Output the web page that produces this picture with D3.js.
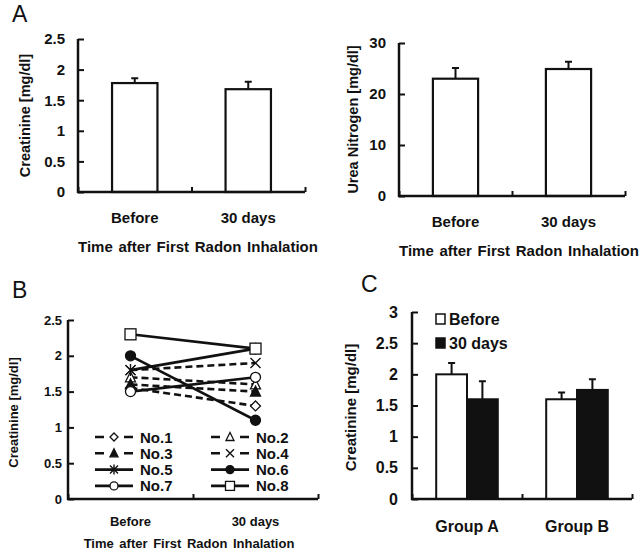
<!DOCTYPE html>
<html>
<head>
<meta charset="utf-8">
<script src="https://cdn.jsdelivr.net/npm/d3@7"></script>
<style>
	body { margin: 0; background: #fff; }
	svg { display: block; }
	text { font-family: "Liberation Sans", Arial, sans-serif; fill: #111; }
</style>
</head>
<body>
<script>
	// ---- data ----
	var timeCats = ['Before', '30 days'],
		creatMean = [1.78, 1.68],
		creatErr = [0.08, 0.12],
		ureaMean = [23.0, 24.9],
		ureaErr = [2.1, 1.4],
		creatTicks = [0, 0.5, 1, 1.5, 2, 2.5],
		ureaTicks = [0, 10, 20, 30];

	var subjects = ['No.1', 'No.2', 'No.3', 'No.4', 'No.5', 'No.6', 'No.7', 'No.8'],
		subjBefore = [1.55, 1.7, 1.6, 1.8, 1.8, 2.0, 1.5, 2.3],
		subjAfter = [1.3, 1.6, 1.5, 1.9, 2.1, 1.1, 1.7, 2.1],
		subjMarker = ['diamond', 'triangle', 'triangleFill', 'cross', 'star', 'circleFill', 'circle', 'square'],
		subjDashed = [true, true, true, true, false, false, false, false];

	var groups = ['Group A', 'Group B'],
		groupBefore = [2.0, 1.6],
		groupAfter = [1.6, 1.75],
		groupBeforeErr = [0.18, 0.11],
		groupAfterErr = [0.29, 0.17],
		groupTicks = [0, 0.5, 1, 1.5, 2, 2.5, 3];

	var width = 640,
		height = 553,
		ink = '#111';

	var svg = d3.select('body').append('svg')
		.attr('width', width)
		.attr('height', height);

	function fmt(d) { return String(d); }

	function panelLetter(txt, x, y) {
		svg.append('text')
			.attr('x', x).attr('y', y)
			.style('font-size', '23px')
			.text(txt);
	}

	// y axis with inward ticks + x axis with 3 small inward ticks
	function drawAxes(g, y, ticks, x0, x1, fontSize, pad) {
		var yAxis = d3.axisLeft(y)
			.tickValues(ticks)
			.tickFormat(fmt)
			.tickSizeInner(-6)
			.tickSizeOuter(0)
			.tickPadding(pad);
		var ya = g.append('g')
			.attr('transform', 'translate(' + x0 + ',0)')
			.call(yAxis);
		var slot = d3.scaleLinear().domain([0, 2]).range([x0, x1]);
		var xa = g.append('g')
			.attr('transform', 'translate(0,' + y(0) + ')')
			.call(d3.axisBottom(slot).tickValues([0, 1, 2]).tickFormat('')
				.tickSizeInner(-5).tickSizeOuter(0));
		[ya, xa].forEach(function(a) {
			a.select('.domain').attr('stroke', ink).attr('stroke-width', 2.5);
			a.selectAll('.tick line').attr('stroke', ink).attr('stroke-width', 2);
			a.selectAll('text')
				.style('font-size', fontSize + 'px')
				.style('font-weight', 'bold')
				.attr('fill', ink);
		});
		ya.select('.domain').attr('d', 'M0,' + (y(ticks[ticks.length - 1])) + 'V' + (y(0) + 1));
		xa.select('.domain').attr('d', 'M' + (x0 - 1) + ',0H' + x1);
	}

	function yTitle(g, txt, x, yc, fontSize) {
		g.append('text')
			.attr('transform', 'translate(' + x + ',' + yc + ') rotate(-90)')
			.attr('text-anchor', 'middle')
			.style('font-size', fontSize + 'px')
			.style('font-weight', 'bold')
			.text(txt);
	}

	function catLabels(g, cats, y, fontSize, center) {
		g.selectAll(null).data(cats).enter().append('text')
			.attr('x', function(d) { return center(d); })
			.attr('y', y)
			.attr('text-anchor', 'middle')
			.style('font-size', fontSize + 'px')
			.style('font-weight', 'bold')
			.text(function(d) { return d; });
	}

	function xTitle(g, x, y, fontSize, anchor, ws) {
		g.append('text')
			.attr('x', x).attr('y', y)
			.attr('text-anchor', anchor)
			.style('font-size', fontSize + 'px')
			.style('font-weight', 'bold')
			.style('word-spacing', ws + 'px')
			.text('Time after First Radon Inhalation');
	}

	function errBars(g, xs, tops, errs, y, cap) {
		g.selectAll(null).data(xs).enter().append('path')
			.attr('d', function(d, i) {
				var yt = y(tops[i] + errs[i]);
				return 'M' + d + ',' + y(tops[i]) + 'V' + yt +
					'M' + (d - cap) + ',' + yt + 'H' + (d + cap);
			})
			.attr('fill', 'none')
			.attr('stroke', ink)
			.attr('stroke-width', 2);
	}

	// ---- panel A, simple bar charts ----
	function barPanel(x0, x1, yTop, y0, maxVal, ticks, means, errs, label, labelX) {
		var g = svg.append('g');
		var y = d3.scaleLinear().domain([0, maxVal]).range([y0, yTop]);
		var x = d3.scaleBand().domain(timeCats).range([x0, x1])
			.paddingInner(0.6).paddingOuter(0.3);
		g.selectAll('rect').data(timeCats).enter().append('rect')
			.attr('x', function(d) { return x(d); })
			.attr('y', function(d, i) { return y(means[i]); })
			.attr('width', x.bandwidth())
			.attr('height', function(d, i) { return y0 - y(means[i]); })
			.attr('fill', '#fff')
			.attr('stroke', ink)
			.attr('stroke-width', 2.2);
		errBars(g, timeCats.map(function(d) { return x(d) + x.bandwidth() / 2; }),
			means, errs, y, 3.5);
		drawAxes(g, y, ticks, x0, x1, 15, 13);
		yTitle(g, label, labelX, (yTop + y0) / 2, 14.5);
		catLabels(g, timeCats, y0 + 31, 15, function(d) { return x(d) + x.bandwidth() / 2; });
		xTitle(g, x0, y0 + 60, 15, 'start', 1.5);
	}

	panelLetter('A', 12, 22);
	barPanel(78, 305, 39, 192, 2.5, creatTicks, creatMean, creatErr, 'Creatinine [mg/dl]', 30);
	barPanel(399, 625, 43, 196, 30, ureaTicks, ureaMean, ureaErr, 'Urea Nitrogen [mg/dl]', 358);

	// ---- panel B, individual lines ----
	function marker(sel, kind, cx, cy, r) {
		var open = '#fff';
		if (kind === 'diamond') {
			sel.append('path').attr('d', 'M' + cx + ',' + (cy - r) + 'L' + (cx + r) + ',' + cy +
				'L' + cx + ',' + (cy + r) + 'L' + (cx - r) + ',' + cy + 'Z')
				.attr('fill', open).attr('stroke', ink).attr('stroke-width', 1.3);
		} else if (kind === 'triangle' || kind === 'triangleFill') {
			sel.append('path').attr('d', 'M' + cx + ',' + (cy - r - 0.5) + 'L' + (cx + r) + ',' + (cy + r - 0.5) +
				'L' + (cx - r) + ',' + (cy + r - 0.5) + 'Z')
				.attr('fill', kind === 'triangle' ? open : ink).attr('stroke', ink).attr('stroke-width', 1.3);
		} else if (kind === 'cross' || kind === 'star') {
			var d = 'M' + (cx - r) + ',' + (cy - r) + 'L' + (cx + r) + ',' + (cy + r) +
				'M' + (cx + r) + ',' + (cy - r) + 'L' + (cx - r) + ',' + (cy + r);
			if (kind === 'star') d += 'M' + cx + ',' + (cy - r - 1) + 'V' + (cy + r + 1);
			sel.append('path').attr('d', d).attr('fill', 'none')
				.attr('stroke', ink).attr('stroke-width', 1.4);
		} else if (kind === 'circle' || kind === 'circleFill') {
			sel.append('circle').attr('cx', cx).attr('cy', cy).attr('r', r)
				.attr('fill', kind === 'circle' ? open : ink).attr('stroke', ink).attr('stroke-width', 1.3);
		} else if (kind === 'square') {
			sel.append('rect').attr('x', cx - r - 0.5).attr('y', cy - r - 0.5)
				.attr('width', 2 * r + 1).attr('height', 2 * r + 1)
				.attr('fill', open).attr('stroke', ink).attr('stroke-width', 1.3);
		}
	}

	(function() {
		var x0 = 68, x1 = 318, yTop = 320, y0 = 499;
		var g = svg.append('g');
		var y = d3.scaleLinear().domain([0, 2.5]).range([y0, yTop]);
		var x = d3.scalePoint().domain(timeCats).range([x0, x1]).padding(0.5);
		var line = d3.line()
			.x(function(d) { return x(d.t); })
			.y(function(d) { return y(d.v); });

		subjects.forEach(function(s, i) {
			var pts = [{t: timeCats[0], v: subjBefore[i]}, {t: timeCats[1], v: subjAfter[i]}];
			g.append('path')
				.datum(pts)
				.attr('d', line)
				.attr('fill', 'none')
				.attr('stroke', ink)
				.attr('stroke-width', 2.6)
				.attr('stroke-dasharray', subjDashed[i] ? '7,4' : null);
		});
		subjects.forEach(function(s, i) {
			marker(g, subjMarker[i], x(timeCats[0]), y(subjBefore[i]), 5);
			marker(g, subjMarker[i], x(timeCats[1]), y(subjAfter[i]), 5);
		});

		// legend: 4 rows x 2 columns
		var leg = g.append('g');
		subjects.forEach(function(s, i) {
			var col = i % 2, row = Math.floor(i / 2);
			var lx = col ? 211 : 95, ly = 437 + row * 16.3;
			leg.append('path')
				.attr('d', 'M' + lx + ',' + ly + 'H' + (lx + 38))
				.attr('stroke', ink).attr('stroke-width', 2.6)
				.attr('stroke-dasharray', subjDashed[i] ? '9,20,9' : null);
			marker(leg, subjMarker[i], lx + 19, ly, 4);
			leg.append('text')
				.attr('x', lx + 45).attr('y', ly + 5.5)
				.style('font-size', '15px')
				.style('font-weight', 'bold')
				.text(s);
		});

		drawAxes(g, y, creatTicks, x0, x1, 13, 6);
		yTitle(g, 'Creatinine [mg/dl]', 18, (yTop + y0) / 2 + 3, 13);
		catLabels(g, timeCats, y0 + 27, 13, function(d) { return x(d); });
		xTitle(g, 189, y0 + 49, 13, 'middle', 2);
	})();
	panelLetter('B', 12, 298);

	// ---- panel C, grouped bars ----
	(function() {
		var x0 = 412, x1 = 632, yTop = 312, y0 = 499;
		var g = svg.append('g');
		var y = d3.scaleLinear().domain([0, 3]).range([y0, yTop]);
		var x = d3.scaleBand().domain(groups).range([x0, x1])
			.paddingInner(0.44).paddingOuter(0.22);
		var sub = d3.scaleBand().domain(['b', 'a']).range([0, x.bandwidth()]);
		var series = [
			{key: 'b', name: 'Before', vals: groupBefore, errs: groupBeforeErr, fill: '#fff'},
			{key: 'a', name: '30 days', vals: groupAfter, errs: groupAfterErr, fill: ink}
		];
		series.forEach(function(s) {
			g.selectAll(null).data(groups).enter().append('rect')
				.attr('x', function(d) { return x(d) + sub(s.key); })
				.attr('y', function(d, i) { return y(s.vals[i]); })
				.attr('width', sub.bandwidth())
				.attr('height', function(d, i) { return y0 - y(s.vals[i]); })
				.attr('fill', s.fill)
				.attr('stroke', ink)
				.attr('stroke-width', 2);
			errBars(g, groups.map(function(d) { return x(d) + sub(s.key) + sub.bandwidth() / 2; }),
				s.vals, s.errs, y, 3.5);
		});
		series.forEach(function(s, i) {
			var ly = 319 + i * 24;
			g.append('rect')
				.attr('x', 436).attr('y', ly - 5)
				.attr('width', 9).attr('height', 10)
				.attr('fill', s.fill).attr('stroke', ink).attr('stroke-width', 1.5);
			g.append('text')
				.attr('x', 449).attr('y', ly + 6)
				.style('font-size', '16px')
				.style('font-weight', 'bold')
				.text(s.name);
		});
		drawAxes(g, y, groupTicks, x0, x1, 16, 14);
		yTitle(g, 'Creatinine [mg/dl]', 356, (yTop + y0) / 2 + 2, 15);
		catLabels(g, groups, y0 + 33, 16, function(d) { return x(d) + x.bandwidth() / 2; });
	})();
	panelLetter('C', 361, 292);
</script>
</body>
</html>
